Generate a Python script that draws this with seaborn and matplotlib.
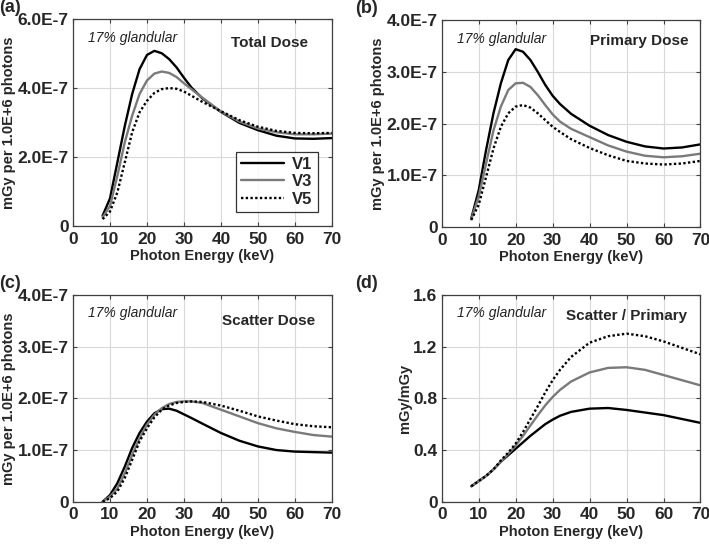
import matplotlib
matplotlib.use("Agg")
import matplotlib.pyplot as plt
import seaborn as sns
import numpy as np

# photon energies (keV)
energy = [8, 10, 12, 14, 16, 18, 20, 22, 24, 26, 28, 30, 32, 35, 40, 45, 50, 55, 60, 65, 70]

# doses in units of 1e-7 mGy per 1.0E+6 photons
total_v1 = [0.3, 0.8, 1.85, 2.9, 3.83, 4.55, 4.96, 5.08, 5.01, 4.84, 4.6, 4.3, 4.02, 3.7, 3.31, 2.99, 2.78, 2.62, 2.54, 2.53, 2.55]
total_v3 = [0.25, 0.58, 1.46, 2.43, 3.2, 3.83, 4.22, 4.42, 4.48, 4.44, 4.32, 4.14, 3.97, 3.72, 3.32, 3.03, 2.83, 2.72, 2.66, 2.66, 2.68]
total_v5 = [0.2, 0.42, 0.98, 1.85, 2.72, 3.3, 3.63, 3.86, 3.97, 4.0, 3.98, 3.9, 3.78, 3.6, 3.33, 3.07, 2.88, 2.76, 2.7, 2.69, 2.7]

primary_v1 = [0.17, 0.71, 1.49, 2.2, 2.78, 3.23, 3.44, 3.39, 3.23, 3.0, 2.75, 2.54, 2.38, 2.19, 1.96, 1.78, 1.65, 1.56, 1.52, 1.54, 1.6]
primary_v3 = [0.15, 0.59, 1.23, 1.87, 2.33, 2.65, 2.78, 2.79, 2.71, 2.55, 2.36, 2.18, 2.04, 1.9, 1.74, 1.58, 1.46, 1.38, 1.35, 1.37, 1.42]
primary_v5 = [0.14, 0.43, 0.97, 1.52, 1.94, 2.2, 2.33, 2.36, 2.31, 2.2, 2.07, 1.94, 1.84, 1.7, 1.53, 1.39, 1.28, 1.23, 1.21, 1.23, 1.28]

scatter_v1 = [0.0, 0.13, 0.36, 0.68, 1.04, 1.33, 1.55, 1.71, 1.79, 1.8, 1.76, 1.69, 1.62, 1.51, 1.33, 1.18, 1.07, 1.0, 0.97, 0.96, 0.95]
scatter_v3 = [0.0, 0.1, 0.26, 0.55, 0.91, 1.23, 1.49, 1.68, 1.81, 1.89, 1.93, 1.94, 1.94, 1.91, 1.78, 1.65, 1.52, 1.42, 1.35, 1.29, 1.26]
scatter_v5 = [0.0, 0.07, 0.2, 0.46, 0.81, 1.17, 1.42, 1.63, 1.78, 1.86, 1.91, 1.93, 1.94, 1.93, 1.86, 1.76, 1.65, 1.57, 1.5, 1.46, 1.44]

# scatter / primary ratio (mGy/mGy)
ratio_v1 = [0.12, 0.16, 0.2, 0.25, 0.31, 0.36, 0.41, 0.46, 0.51, 0.555, 0.6, 0.635, 0.665, 0.695, 0.72, 0.725, 0.71, 0.69, 0.67, 0.64, 0.61]
ratio_v3 = [0.12, 0.16, 0.2, 0.25, 0.31, 0.37, 0.435, 0.51, 0.59, 0.67, 0.745, 0.81, 0.865, 0.93, 1.0, 1.035, 1.04, 1.02, 0.98, 0.94, 0.9]
ratio_v5 = [0.12, 0.16, 0.2, 0.25, 0.32, 0.38, 0.45, 0.54, 0.64, 0.74, 0.845, 0.94, 1.02, 1.12, 1.23, 1.28, 1.3, 1.28, 1.24, 1.19, 1.14]

series_names = ["V1", "V3", "V5"]
x_ticks = [0, 10, 20, 30, 40, 50, 60, 70]
dose_ticks_a = [0, 2, 4, 6]
dose_labels_a = ["0", "2.0E-7", "4.0E-7", "6.0E-7"]
dose_ticks_bc = [0, 1, 2, 3, 4]
dose_labels_bc = ["0", "1.0E-7", "2.0E-7", "3.0E-7", "4.0E-7"]
ratio_ticks = [0, 0.4, 0.8, 1.2, 1.6]
ratio_labels = ["0", "0.4", "0.8", "1.2", "1.6"]

sns.set_theme(style="whitegrid")
plt.rcParams["font.family"] = ["Liberation Sans", "DejaVu Sans"]
plt.rcParams["font.weight"] = "bold"

styles = [dict(color="black", linestyle="-"),
          dict(color="#7a7a7a", linestyle="-"),
          dict(color="black", linestyle=(0, (1, 1)))]

fig = plt.figure(figsize=(7.09, 5.46), dpi=100)
w, h = 0.365, 0.379
axes = [fig.add_axes([0.103, 0.586, w, h]),
        fig.add_axes([0.623, 0.584, w, h]),
        fig.add_axes([0.103, 0.081, w, h]),
        fig.add_axes([0.623, 0.081, w, h])]

panels = [
    ("(a)", "Total Dose", [total_v1, total_v3, total_v5], 1e-7, dose_ticks_a, dose_labels_a, "mGy per 1.0E+6 photons", (0.76, 0.885)),
    ("(b)", "Primary Dose", [primary_v1, primary_v3, primary_v5], 1e-7, dose_ticks_bc, dose_labels_bc, "mGy per 1.0E+6 photons", (0.765, 0.9)),
    ("(c)", "Scatter Dose", [scatter_v1, scatter_v3, scatter_v5], 1e-7, dose_ticks_bc, dose_labels_bc, "mGy per 1.0E+6 photons", (0.755, 0.875)),
    ("(d)", "Scatter / Primary", [ratio_v1, ratio_v3, ratio_v5], 1.0, ratio_ticks, ratio_labels, "mGy/mGy", (0.715, 0.9)),
]

for ax, (tag, title, data, scale, yt, ylab, ylabel, tpos) in zip(axes, panels):
    for name, vals, st in zip(series_names, data, styles):
        sns.lineplot(x=energy, y=np.array(vals) * scale, ax=ax, label=name,
                     linewidth=1.7, **st)
    ax.set_xlim(0, 70)
    ax.set_ylim(yt[0] * scale, yt[-1] * scale)
    ax.set_xticks(x_ticks)
    ax.set_yticks([t * scale for t in yt])
    ax.set_yticklabels(ylab)
    ax.set_xlabel("Photon Energy (keV)", fontsize=10.5, fontweight="bold", labelpad=2)
    ax.set_ylabel(ylabel, fontsize=10.5, fontweight="bold", labelpad=1)
    ax.tick_params(axis="x", pad=4)
    ax.tick_params(axis="y", pad=3)
    ax.tick_params(labelsize=12.5, direction="in", length=3, width=0.8,
                   color="#404040", top=True, right=True, bottom=True, left=True)
    for lb in ax.get_xticklabels() + ax.get_yticklabels():
        lb.set_fontweight("bold")
    ax.grid(True, color="#d9d9d9", linewidth=0.8)
    for sp in ax.spines.values():
        sp.set_color("#404040")
        sp.set_linewidth(0.9)
    ax.text(0.23, 0.91, "17% glandular", transform=ax.transAxes, ha="center", va="center",
            fontsize=10, style="italic", fontweight="normal", color="#222222")
    ax.text(tpos[0], tpos[1], title, transform=ax.transAxes, ha="center", va="center",
            fontsize=11, fontweight="bold")
    ax.text(-0.285 if tag in ("(a)", "(c)") else -0.335, 1.055, tag, transform=ax.transAxes,
            ha="left", va="center", fontsize=13, fontweight="bold")
    if tag == "(a)":
        leg = ax.legend(loc="lower right", bbox_to_anchor=(0.945, 0.07), frameon=True,
                        fancybox=False, edgecolor="black", fontsize=12,
                        handlelength=2.6, handletextpad=0.5, borderpad=0.3,
                        labelspacing=0.15, borderaxespad=0)
        leg.get_frame().set_linewidth(0.9)
        for t in leg.get_texts():
            t.set_fontweight("bold")
    else:
        ax.get_legend().remove()

fig.savefig("out.png", dpi=100)
